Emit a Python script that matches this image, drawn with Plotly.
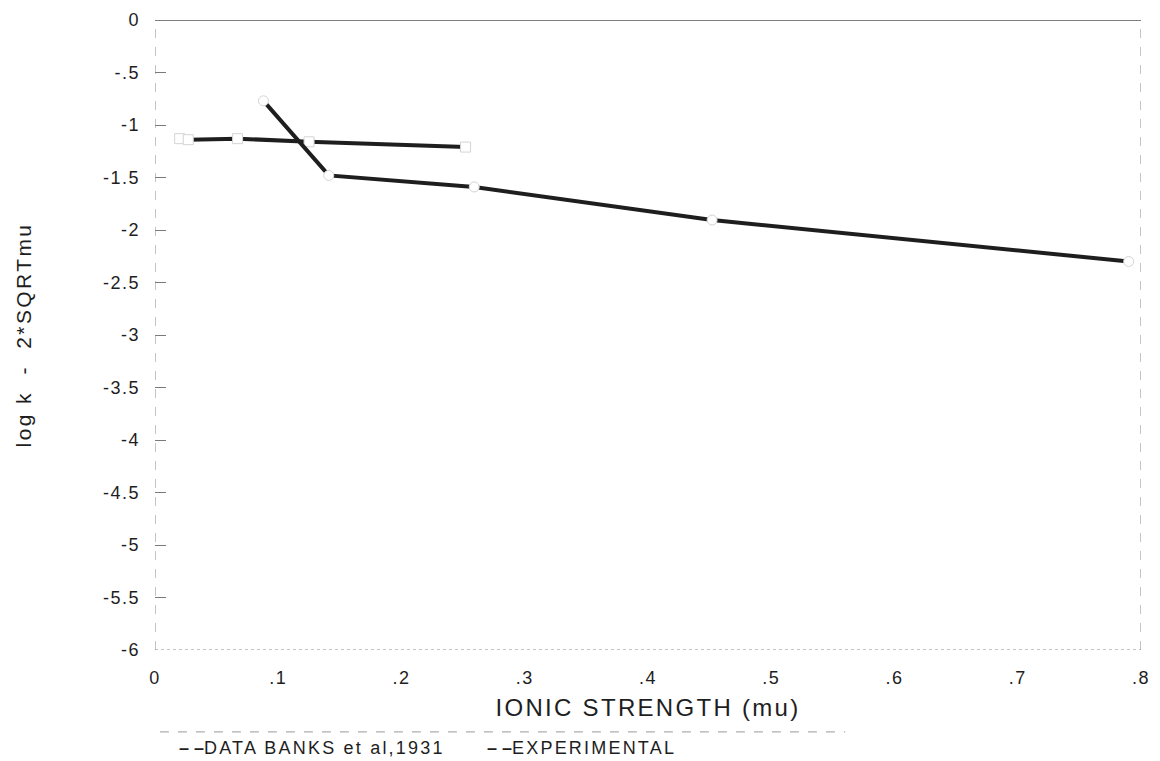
import plotly.graph_objects as go

# Ionic strength (mu) and log k - 2*sqrt(mu) for each data set
bank_mu = [0.020, 0.027, 0.067, 0.125, 0.252]
bank_val = [-1.13, -1.14, -1.13, -1.16, -1.21]

exp_mu = [0.088, 0.141, 0.259, 0.452, 0.790]
exp_val = [-0.77, -1.48, -1.59, -1.905, -2.30]

series_names = ["DATA BANKS et al,1931", "EXPERIMENTAL"]

x_ticks = [0, 0.1, 0.2, 0.3, 0.4, 0.5, 0.6, 0.7, 0.8]
x_tick_labels = ["0", ".1", ".2", ".3", ".4", ".5", ".6", ".7", ".8"]
y_ticks = [0, -0.5, -1, -1.5, -2, -2.5, -3, -3.5, -4, -4.5, -5, -5.5, -6]
y_tick_labels = ["0", "-.5", "-1", "-1.5", "-2", "-2.5", "-3", "-3.5",
                 "-4", "-4.5", "-5", "-5.5", "-6"]

FONT = "Liberation Sans, Arial, sans-serif"
INK = "#1e1e1e"
FRAME = "#8a8a8a"


def spaced(text, px):
    return f'<span style="letter-spacing:{px}px">{text}</span>'


marker_style = dict(size=10, color="white", line=dict(color="#d4d4d4", width=1))

fig = go.Figure()
fig.add_trace(go.Scatter(
    x=bank_mu, y=bank_val, mode="lines+markers", name=series_names[0],
    line=dict(color=INK, width=4), marker=dict(symbol="square", **marker_style),
    showlegend=False,
))
fig.add_trace(go.Scatter(
    x=exp_mu, y=exp_val, mode="lines+markers", name=series_names[1],
    line=dict(color=INK, width=4), marker=dict(symbol="circle", **marker_style),
    showlegend=False,
))

# plot frame: solid top edge, faint broken edges elsewhere
fig.add_shape(type="line", xref="x", yref="y", x0=0, x1=0.8, y0=0, y1=0,
              line=dict(color="#555555", width=1.6))
fig.add_shape(type="line", xref="x", yref="y", x0=0, x1=0.8, y0=-6, y1=-6,
              line=dict(color=FRAME, width=1, dash="dot"))
fig.add_shape(type="line", xref="x", yref="y", x0=0, x1=0, y0=-6, y1=0,
              line=dict(color=FRAME, width=1, dash="dash"))
fig.add_shape(type="line", xref="x", yref="y", x0=0.8, x1=0.8, y0=-6, y1=0,
              line=dict(color=FRAME, width=1, dash="dash"))

# separator above the key
fig.add_shape(type="line", xref="paper", yref="paper",
              x0=0.005, x1=0.700, y0=-0.130, y1=-0.130,
              line=dict(color="#9a9a9a", width=1, dash="dash"))

# key entries
key_x = [0.022, 0.335]
for name, kx in zip(series_names, key_x):
    fig.add_annotation(
        xref="paper", yref="paper", x=kx, y=-0.156,
        xanchor="left", yanchor="middle", showarrow=False,
        text="<b>\u2013 \u2013</b>" + spaced(name, 2.2),
        font=dict(family=FONT, size=18, color=INK),
    )

fig.update_layout(
    width=1160, height=761,
    margin=dict(l=155, r=10, t=20, b=111),
    paper_bgcolor="white", plot_bgcolor="white",
    font=dict(family=FONT, color=INK),
)

fig.update_xaxes(
    range=[0, 0.8], showgrid=False, zeroline=False, showline=False,
    tickmode="array", tickvals=x_ticks,
    ticktext=[spaced(t, 1.5) for t in x_tick_labels],
    ticks="", ticklabelstandoff=15,
    tickfont=dict(family=FONT, size=18, color=INK),
    title=dict(text=spaced("IONIC STRENGTH (mu)", 2.3),
               font=dict(family=FONT, size=24, color=INK), standoff=12),
)

fig.update_yaxes(
    range=[-6, 0], showgrid=False, zeroline=False, showline=False,
    tickmode="array", tickvals=y_ticks,
    ticktext=[spaced(t, 1.5) for t in y_tick_labels],
    ticks="inside", ticklen=11, tickwidth=1, tickcolor="#7a7a7a",
    ticklabelstandoff=14,
    tickfont=dict(family=FONT, size=18, color=INK),
    title=dict(text=spaced("log k \u00a0-\u00a0 2*SQRTmu", 2.4),
               font=dict(family=FONT, size=21, color=INK), standoff=65),
)

fig.write_html("out.html")
